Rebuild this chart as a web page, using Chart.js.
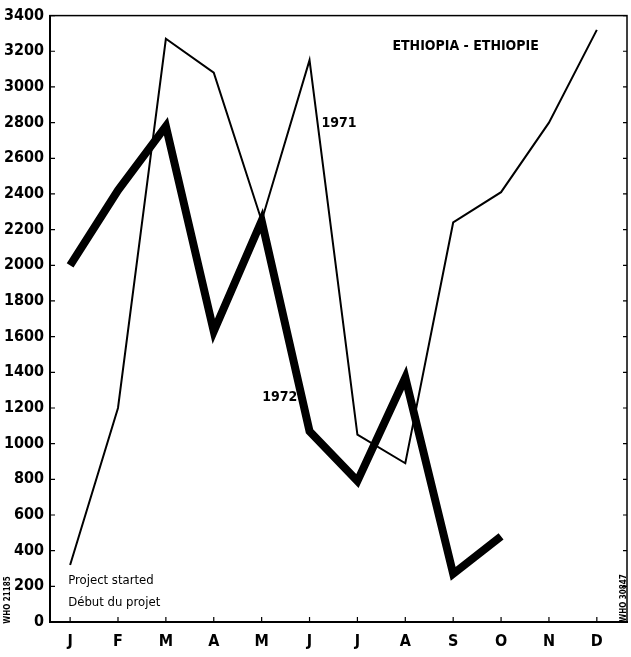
<!DOCTYPE html>
<html>
<head>
<meta charset="utf-8">
<script src="https://cdn.jsdelivr.net/npm/chart.js@4/dist/chart.umd.min.js"></script>
<style>
html,body{margin:0;padding:0;background:#fff;}
#wrap{width:631px;height:657px;}
</style>
</head>
<body>
<div id="wrap"><canvas id="c" width="631" height="657"></canvas></div>
<script>
const months = ["J","F","M","A","M","J","J","A","S","O","N","D"];
const values1971 = [320, 1200, 3270, 3080, 2250, 3150, 1050, 890, 2240, 2410, 2800, 3320];
const values1972 = [2000, 2420, 2780, 1630, 2250, 1070, 790, 1370, 270, 480];
const yTicks = [0,200,400,600,800,1000,1200,1400,1600,1800,2000,2200,2400,2600,2800,3000,3200,3400];
const title = "ETHIOPIA - ETHIOPIE";
const label1971 = "1971";
const label1972 = "1972";
const note1 = "Project started";
const note2 = "Début du projet";

const FONT = "'DejaVu Sans Condensed','Liberation Sans Narrow',sans-serif";

const toPts = arr => arr.map((v,i)=>({x:i,y:v}));

const decor = {
  id:'decor',
  afterDraw(chart){
    const {ctx, chartArea:a, scales:{x,y}} = chart;
    ctx.save();
    ctx.strokeStyle='#000';
    ctx.lineWidth=1.5;
    ctx.strokeRect(a.left, a.top, a.right-a.left, a.bottom-a.top);
    ctx.lineWidth=1.2;
    ctx.beginPath();
    yTicks.forEach(v=>{
      const py = y.getPixelForValue(v);
      ctx.moveTo(a.left, py); ctx.lineTo(a.left+5, py);
      ctx.moveTo(a.right, py); ctx.lineTo(a.right-4, py);
    });
    months.forEach((m,i)=>{
      const px = x.getPixelForValue(i);
      ctx.moveTo(px, a.bottom); ctx.lineTo(px, a.bottom-5);
    });
    ctx.stroke();
    ctx.fillStyle='#000';
    ctx.textBaseline='middle';
    ctx.font = "bold 14px " + FONT;
    ctx.textAlign='center';
    ctx.fillText(title, x.getPixelForValue(8.26), y.getPixelForValue(3225));
    ctx.textAlign='left';
    ctx.font = "bold 14px " + FONT;
    ctx.fillText(label1971, x.getPixelForValue(5.25), y.getPixelForValue(2795));
    ctx.fillText(label1972, x.getPixelForValue(4.01), y.getPixelForValue(1262));
    ctx.font = "13px " + FONT;
    ctx.fillText(note1, x.getPixelForValue(-0.04), y.getPixelForValue(230));
    ctx.fillText(note2, x.getPixelForValue(-0.04), y.getPixelForValue(110));
    ctx.font = "bold 8px " + FONT;
    ctx.save();
    ctx.translate(8, 600); ctx.rotate(-Math.PI/2);
    ctx.textAlign='center';
    ctx.fillText("WHO 21185", 0, 0);
    ctx.restore();
    ctx.save();
    ctx.translate(624, 598); ctx.rotate(-Math.PI/2);
    ctx.textAlign='center';
    ctx.fillText("WHO 30847", 0, 0);
    ctx.restore();
    ctx.restore();
  }
};

new Chart(document.getElementById('c'), {
  type:'line',
  data:{
    datasets:[
      {label:'1971', data:toPts(values1971), borderColor:'#000', borderWidth:2, pointRadius:0, tension:0, fill:false},
      {label:'1972', data:toPts(values1972), borderColor:'#000', borderWidth:8, pointRadius:0, tension:0, fill:false, borderCapStyle:'butt', borderJoinStyle:'miter'}
    ]
  },
  options:{
    responsive:false,
    animation:false,
    layout:{padding:{top:15,right:4,left:0,bottom:0}},
    plugins:{legend:{display:false}, tooltip:{enabled:false}},
    scales:{
      x:{
        type:'linear', min:-0.42, max:11.63,
        afterBuildTicks(s){ s.ticks = months.map((m,i)=>({value:i})); },
        afterFit(s){ s.height = 35; },
        grid:{display:false, drawTicks:false},
        border:{display:true, color:'#000', width:2},
        ticks:{callback:(v)=>months[v], color:'#000', padding:10, font:{family:FONT, size:16, weight:'bold'}, maxRotation:0, autoSkip:false}
      },
      y:{
        min:0, max:3400,
        afterBuildTicks(s){ s.ticks = yTicks.map(v=>({value:v})); },
        afterFit(s){ s.width = 50; },
        grid:{display:false, drawTicks:false},
        border:{display:true, color:'#000', width:2},
        ticks:{callback:(v)=>String(v), color:'#000', padding:6, font:{family:FONT, size:16, weight:'bold'}, autoSkip:false}
      }
    }
  },
  plugins:[decor]
});
</script>
</body>
</html>
